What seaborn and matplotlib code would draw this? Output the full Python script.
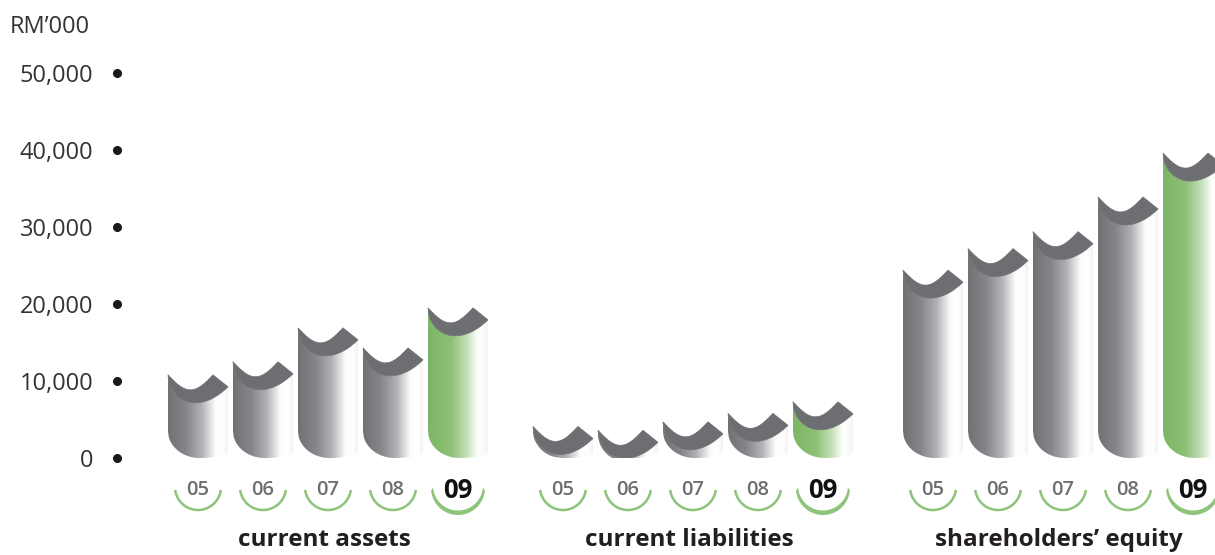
import numpy as np
import pandas as pd
import matplotlib
matplotlib.use("Agg")
import matplotlib.pyplot as plt
from matplotlib.patches import Polygon
import seaborn as sns

# ---- data (RM'000) ----
groups = ["current assets", "current liabilities", "shareholders’ equity"]
years = ["05", "06", "07", "08", "09"]
current_assets = [10800, 12500, 16900, 14300, 19500]
current_liabilities = [4100, 3600, 4700, 5800, 7300]
shareholders_equity = [24400, 27200, 29400, 33900, 39600]
y_ticks = [0, 10000, 20000, 30000, 40000, 50000]
y_tick_labels = ["0", "10,000", "20,000", "30,000", "40,000", "50,000"]
unit_label = "RM’000"
highlight_year = "09"

sns.set_theme(style="white")
plt.rcParams["font.family"] = ["Open Sans", "DejaVu Sans"]

W, H = 1215, 555
fig = plt.figure(figsize=(W / 100, H / 100), dpi=100)
ax = fig.add_axes([117 / W, (H - 458) / H, (W - 117) / W, 398 / H])

# bar slots one unit apart, with extra room between the groups
group_starts = [0.0, 5.615, 11.308]
rows = []
for g, start, vals in zip(groups, group_starts,
                          [current_assets, current_liabilities, shareholders_equity]):
    for i, (yr, v) in enumerate(zip(years, vals)):
        rows.append(dict(group=g, year=yr, value=v, pos=start + i))
df = pd.DataFrame(rows)

sns.barplot(data=df, x="pos", y="value", native_scale=True, orient="x",
            width=60 / 65, errorbar=None, ax=ax, color="0.5")

XMIN, XMAX = -1.246, 15.646
YMAX = 398 / 77 * 10000
ax.set_xlim(XMIN, XMAX)
ax.set_ylim(0, YMAX)

# size of one screen pixel in data units
px_x = 1 / 65
px_y = 10000 / 77


def gradient_image(stops):
    xs = np.linspace(0, 1, 256)
    pos = [s[0] for s in stops]
    cols = np.array([s[1] for s in stops], dtype=float) / 255
    rgb = np.stack([np.interp(xs, pos, cols[:, k]) for k in range(3)], axis=-1)
    return rgb[np.newaxis, :, :]


gray_grad = gradient_image([(0.0, (112, 113, 116)), (0.3, (134, 135, 138)),
                            (0.55, (176, 177, 180)), (0.78, (252, 252, 252)),
                            (0.9, (255, 255, 255)), (1.0, (240, 240, 241))])
green_grad = gradient_image([(0.0, (124, 182, 100)), (0.38, (142, 192, 118)),
                             (0.65, (200, 226, 188)), (0.82, (255, 255, 255)),
                             (1.0, (242, 246, 240))])
cap_color = "#6d6e72"
arc_green = "#8cc57a"


def rim_drop(sv, x_min=0.45, depth=28.0, end_drop=12.0):
    # front rim of the slanted top, pixels below the left corner
    out = np.empty_like(sv)
    left = sv <= x_min
    phi = np.arccos(np.clip(1 - sv[left] / x_min, -1, 1))
    out[left] = depth * np.sin(phi)
    u = (sv[~left] - x_min) / (1 - x_min)
    out[~left] = depth - (depth - end_drop) * u ** 2
    return out


def base_rise(sv):
    # rounded bottom rim, pixels above zero
    out = np.empty_like(sv)
    left = sv <= 0.53
    phi = np.arccos(np.clip(1 - sv[left] / 0.53, -1, 1))
    out[left] = 27 * (1 - np.sin(phi))
    phi = np.arcsin(np.clip((sv[~left] - 0.53) / 0.47, -1, 1))
    out[~left] = 6 * (1 - np.cos(phi))
    return out


s = np.linspace(0, 1, 90)

for p in list(ax.patches):
    x0, w, v = p.get_x(), p.get_width(), p.get_height()
    centre = x0 + w / 2
    row = df.iloc[(df["pos"] - centre).abs().argmin()]
    p.set_visible(False)

    rim_y = v - rim_drop(s) * px_y
    base_y = np.minimum(base_rise(s) * px_y, rim_y - 3 * px_y)
    xs = x0 + s * w

    body_pts = np.vstack([np.column_stack([xs, rim_y]),
                          np.column_stack([xs[::-1], base_y[::-1]])])
    body = Polygon(body_pts, closed=True, facecolor="none", edgecolor="none")
    ax.add_patch(body)
    grad = green_grad if row["year"] == highlight_year else gray_grad
    im = ax.imshow(grad, extent=[x0, x0 + w, base_y.min(), v], aspect="auto",
                   interpolation="bilinear", zorder=2)
    im.set_clip_path(body)

    # hollow of the cut top
    t = np.linspace(0, 1, 60)
    inner_x = x0 + t * (45 / 60) * w
    inner_y = v - 15 * np.sin(np.pi * t) * px_y
    cap_pts = np.vstack([np.column_stack([inner_x, inner_y]),
                         [[x0 + w, v - 12 * px_y]],
                         np.column_stack([xs[::-1], rim_y[::-1]])])
    ax.add_patch(Polygon(cap_pts, closed=True, facecolor=cap_color,
                         edgecolor=cap_color, lw=0.5, zorder=3))

    # year label with its green arc
    if row["year"] == highlight_year:
        ax.text(centre, -32 * px_y, row["year"], ha="center", va="center",
                fontsize=18.5, fontweight="bold", color="#111111", clip_on=False)
        a = np.radians(np.linspace(185, 355, 60))
        outer = np.column_stack([centre + 27 * np.cos(a) * px_x,
                                 -30 * px_y + 27 * np.sin(a) * px_y])
        inner = np.column_stack([centre + 25 * np.cos(a) * px_x,
                                 -27.5 * px_y + 25 * np.sin(a) * px_y])
        ax.add_patch(Polygon(np.vstack([outer, inner[::-1]]), closed=True,
                             facecolor=arc_green, edgecolor="none", clip_on=False))
    else:
        ax.text(centre, -32 * px_y, row["year"], ha="center", va="center",
                fontsize=14.5, fontweight="semibold", color="#6d6e71", clip_on=False)
        a = np.radians(np.linspace(187.5, 352.5, 60))
        ax.plot(centre + 23 * np.cos(a) * px_x, -29 * px_y + 23 * np.sin(a) * px_y,
                color=arc_green, lw=1.8, solid_capstyle="butt", clip_on=False)

# group captions
for g, start in zip(groups, group_starts):
    ax.text(start + 2 - 4 * px_x, -82 * px_y, g, ha="center", va="center",
            fontsize=17.5, fontweight="bold", color="#231f20", clip_on=False)

# value axis: labels with round markers
ax.set_yticks(y_ticks, y_tick_labels)
ax.tick_params(axis="y", length=0, pad=17, labelsize=17, labelcolor="#333333")
ax.set_xticks([])
ax.plot([XMIN] * len(y_ticks), y_ticks, "o", ms=5.5, color="#1a1a1a",
        clip_on=False, zorder=5)
ax.set_xlabel("")
ax.set_ylabel("")
for sp in ax.spines.values():
    sp.set_visible(False)
ax.set_xlim(XMIN, XMAX)
ax.set_ylim(0, YMAX)

fig.text(10 / W, 1 - 27 / H, unit_label, ha="left", va="center",
         fontsize=17, color="#333333")

fig.savefig("out.png", dpi=100)
